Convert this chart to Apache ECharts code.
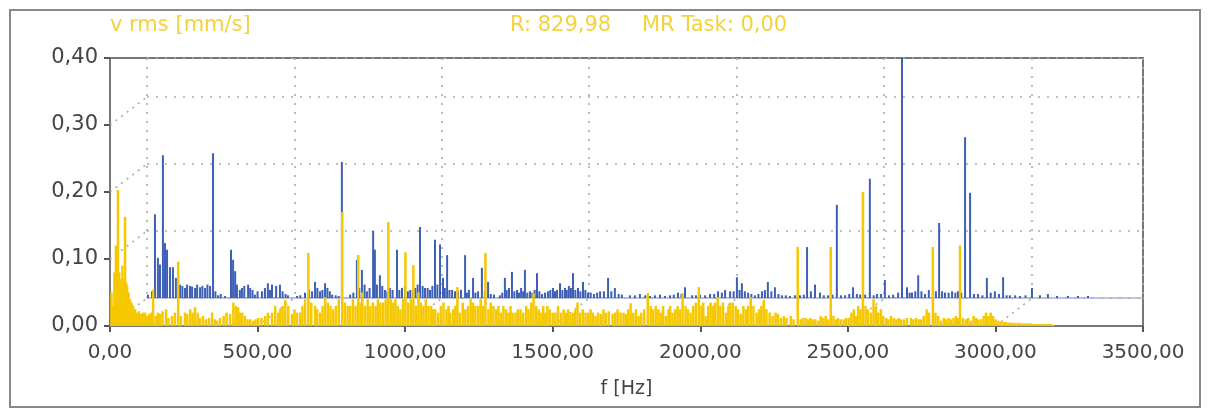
<!DOCTYPE html>
<html>
<head>
<meta charset="utf-8">
<script src="https://cdn.jsdelivr.net/npm/echarts@6/dist/echarts.min.js"></script>
<style>
html, body { margin: 0; padding: 0; background: #fff; }
#myChart { width: 1208px; height: 410px; }
</style>
</head>
<body>
<div id="myChart"></div>
<script>
// front spectrum (yellow) peaks, [f Hz, v rms]
const yellowData = [
  [10,0.03],[20,0.12],[27,0.203],[34,0.07],[42,0.09],[51,0.163],[58,0.06],[68,0.04],[78,0.03],[92,0.02],
  [105,0.018],[119,0.02],[146,0.054],[170,0.018],[190,0.025],[210,0.015],[231,0.096],[254,0.02],[288,0.028],
  [315,0.015],[346,0.02],[373,0.012],[407,0.018],[434,0.028],[448,0.02],[475,0.01],[502,0.012],[526,0.015],
  [549,0.02],[577,0.025],[594,0.039],[617,0.018],[644,0.02],[672,0.109],[695,0.03],[712,0.02],[729,0.043],
  [756,0.025],[787,0.17],[814,0.03],[841,0.106],[855,0.05],[882,0.03],[916,0.035],[943,0.155],[967,0.04],
  [984,0.025],[1001,0.11],[1028,0.091],[1045,0.05],[1079,0.03],[1102,0.025],[1130,0.035],[1153,0.02],
  [1177,0.058],[1204,0.025],[1238,0.03],[1272,0.109],[1299,0.03],[1333,0.03],[1364,0.02],[1391,0.025],
  [1435,0.049],[1459,0.02],[1482,0.03],[1509,0.02],[1537,0.025],[1560,0.018],[1584,0.035],[1611,0.02],
  [1645,0.015],[1672,0.025],[1703,0.018],[1730,0.02],[1764,0.034],[1791,0.015],[1822,0.049],[1849,0.03],
  [1883,0.015],[1906,0.02],[1940,0.049],[1967,0.02],[1995,0.058],[2018,0.015],[2059,0.043],[2087,0.02],
  [2110,0.035],[2137,0.018],[2171,0.043],[2191,0.02],[2215,0.039],[2245,0.015],[2273,0.012],[2307,0.015],
  [2330,0.118],[2357,0.012],[2381,0.01],[2408,0.015],[2442,0.118],[2476,0.01],[2503,0.012],[2527,0.015],
  [2551,0.2],[2578,0.02],[2612,0.025],[2646,0.015],[2680,0.01],[2714,0.012],[2748,0.01],[2788,0.118],
  [2815,0.008],[2849,0.01],[2880,0.12],[2917,0.008],[2951,0.01],[2992,0.015],[3019,0.006],[3053,0.005],
  [3087,0.004],[3121,0.004],[3155,0.003],[3188,0.003]
]
// front spectrum noise floor
const yellowFloor = [
  [5,0.05],[15,0.08],[24,0.09],[31,0.08],[38,0.06],[47,0.07],[55,0.065],[63,0.05],[73,0.035],[85,0.025],
  [98,0.022],[112,0.02],[126,0.015],[133,0.018],[140,0.02],[155,0.015],[162,0.02],[178,0.022],[198,0.012],
  [220,0.02],[240,0.015],[262,0.018],[272,0.025],[280,0.02],[297,0.02],[305,0.012],[325,0.01],[335,0.012],
  [355,0.01],[363,0.008],[385,0.015],[395,0.02],[418,0.035],[426,0.03],[440,0.02],[457,0.015],[466,0.01],
  [485,0.008],[493,0.01],[513,0.012],[535,0.02],[560,0.03],[570,0.02],[585,0.03],[604,0.03],[625,0.025],
  [633,0.02],[652,0.03],[661,0.04],[682,0.035],[702,0.025],[720,0.03],[738,0.035],[747,0.03],[765,0.03],
  [775,0.04],[796,0.035],[805,0.03],[823,0.04],[832,0.03],[849,0.035],[864,0.03],[873,0.04],[891,0.035],
  [900,0.03],[908,0.04],[925,0.035],[934,0.04],[952,0.04],[960,0.035],[975,0.03],[993,0.04],[1010,0.035],
  [1019,0.04],[1036,0.03],[1053,0.035],[1062,0.03],[1070,0.04],[1088,0.03],[1095,0.025],[1112,0.02],
  [1121,0.03],[1140,0.025],[1147,0.03],[1163,0.025],[1170,0.03],[1185,0.02],[1195,0.035],[1213,0.03],
  [1222,0.04],[1230,0.035],[1248,0.03],[1256,0.04],[1264,0.03],[1282,0.025],[1290,0.035],[1308,0.025],
  [1316,0.03],[1324,0.02],[1342,0.025],[1350,0.02],[1357,0.03],[1374,0.02],[1382,0.025],[1400,0.02],
  [1410,0.03],[1418,0.025],[1427,0.035],[1444,0.03],[1452,0.025],[1468,0.03],[1475,0.02],[1490,0.025],
  [1500,0.02],[1518,0.03],[1528,0.02],[1545,0.02],[1552,0.025],[1568,0.02],[1576,0.025],[1593,0.02],
  [1602,0.025],[1620,0.02],[1628,0.025],[1636,0.02],[1654,0.02],[1663,0.018],[1680,0.02],[1690,0.022],
  [1712,0.02],[1720,0.025],[1740,0.02],[1748,0.018],[1756,0.025],[1773,0.02],[1782,0.025],[1800,0.02],
  [1810,0.025],[1832,0.03],[1840,0.025],[1858,0.025],[1866,0.02],[1874,0.03],[1892,0.025],[1898,0.03],
  [1915,0.025],[1923,0.03],[1931,0.025],[1950,0.03],[1958,0.025],[1976,0.03],[1985,0.035],[2004,0.03],
  [2010,0.035],[2027,0.03],[2035,0.035],[2043,0.03],[2050,0.035],[2068,0.03],[2077,0.035],[2095,0.03],
  [2102,0.035],[2120,0.03],[2128,0.025],[2146,0.03],[2155,0.025],[2162,0.03],[2180,0.03],[2200,0.025],
  [2207,0.03],[2224,0.025],[2235,0.02],[2255,0.02],[2263,0.018],[2283,0.015],[2292,0.012],[2316,0.01],
  [2340,0.01],[2348,0.012],[2366,0.01],[2373,0.012],[2390,0.01],[2400,0.008],[2417,0.012],[2425,0.015],
  [2433,0.01],[2451,0.015],[2460,0.01],[2467,0.012],[2486,0.01],[2494,0.012],[2512,0.02],[2520,0.025],
  [2535,0.03],[2543,0.025],[2560,0.03],[2568,0.025],[2587,0.04],[2595,0.03],[2603,0.02],[2620,0.015],
  [2630,0.012],[2637,0.01],[2655,0.012],[2664,0.01],[2672,0.012],[2690,0.01],[2700,0.012],[2722,0.01],
  [2731,0.012],[2740,0.01],[2757,0.015],[2767,0.025],[2775,0.02],[2797,0.02],[2806,0.015],[2825,0.012],
  [2833,0.01],[2841,0.012],[2858,0.012],[2866,0.015],[2873,0.012],[2890,0.012],[2900,0.01],[2908,0.012],
  [2926,0.015],[2934,0.012],[2942,0.01],[2960,0.015],[2968,0.02],[2976,0.015],[2984,0.02],[3000,0.01],
  [3010,0.008],[3028,0.006],[3036,0.006],[3045,0.005],[3062,0.005],[3070,0.004],[3078,0.005],[3096,0.004],
  [3104,0.004],[3112,0.004],[3130,0.003],[3138,0.003],[3146,0.003],[3164,0.003],[3172,0.003],[3180,0.003],
  [3196,0.002]
]
// rear spectrum (blue) peaks, drawn on the shifted rear plane
const blueData = [
  [3,0.005],[17,0.01],[27,0.125],[37,0.06],[44,0.05],[54,0.213],[61,0.082],[68,0.072],[78,0.046],[88,0.046],
  [98,0.03],[112,0.02],[129,0.015],[146,0.018],[163,0.015],[180,0.016],[197,0.015],[214,0.018],[224,0.216],
  [241,0.004],[265,0.003],[285,0.072],[292,0.057],[299,0.04],[315,0.012],[343,0.02],[366,0.005],[390,0.01],
  [410,0.022],[424,0.02],[451,0.02],[478,0.004],[509,0.003],[536,0.008],[570,0.024],[587,0.01],[604,0.022],
  [628,0.005],[661,0.203],[689,0.005],[712,0.057],[729,0.042],[746,0.01],[767,0.10],[773,0.072],[790,0.034],
  [807,0.012],[824,0.015],[848,0.072],[865,0.015],[885,0.01],[902,0.012],[926,0.106],[943,0.015],[960,0.012],
  [977,0.087],[994,0.08],[1004,0.03],[1018,0.064],[1035,0.012],[1055,0.01],[1079,0.064],[1092,0.012],
  [1106,0.03],[1123,0.01],[1136,0.045],[1157,0.024],[1177,0.005],[1197,0.004],[1214,0.03],[1228,0.015],
  [1238,0.039],[1255,0.012],[1269,0.015],[1282,0.042],[1299,0.01],[1323,0.037],[1340,0.006],[1360,0.01],
  [1377,0.015],[1391,0.012],[1401,0.022],[1418,0.015],[1431,0.018],[1445,0.037],[1462,0.015],[1479,0.024],
  [1496,0.008],[1516,0.006],[1537,0.01],[1564,0.03],[1587,0.015],[1611,0.005],[1638,0.004],[1672,0.006],
  [1706,0.003],[1740,0.005],[1774,0.004],[1801,0.008],[1825,0.016],[1849,0.004],[1876,0.005],[1910,0.006],
  [1937,0.01],[1961,0.012],[1978,0.01],[2001,0.031],[2018,0.022],[2039,0.008],[2062,0.004],[2086,0.01],
  [2106,0.024],[2130,0.016],[2154,0.004],[2181,0.003],[2215,0.004],[2239,0.076],[2252,0.01],[2266,0.02],
  [2283,0.008],[2310,0.004],[2340,0.139],[2368,0.004],[2395,0.016],[2419,0.005],[2452,0.178],[2476,0.006],
  [2503,0.027],[2531,0.005],[2561,0.40],[2578,0.016],[2595,0.008],[2616,0.034],[2639,0.006],[2666,0.072],
  [2687,0.112],[2707,0.008],[2731,0.01],[2751,0.01],[2775,0.24],[2792,0.157],[2819,0.006],[2849,0.03],
  [2876,0.01],[2904,0.031],[2927,0.004],[2961,0.003],[3002,0.015],[3029,0.004],[3056,0.006],[3087,0.003],
  [3124,0.003],[3158,0.003],[3192,0.003]
]
// rear spectrum noise floor
const blueFloor = [
  [105,0.022],[120,0.018],[136,0.02],[153,0.017],[170,0.02],[188,0.018],[205,0.02],[232,0.01],[250,0.006],
  [305,0.02],[322,0.015],[330,0.018],[350,0.015],[358,0.012],[375,0.01],[400,0.015],[417,0.012],[438,0.018],
  [460,0.01],[470,0.006],[520,0.004],[550,0.012],[560,0.01],[578,0.015],[595,0.012],[612,0.015],[620,0.01],
  [640,0.004],[650,0.003],[700,0.008],[720,0.015],[738,0.02],[755,0.015],[780,0.02],[798,0.018],[815,0.01],
  [833,0.012],[856,0.012],[875,0.018],[893,0.012],[910,0.015],[918,0.02],[935,0.018],[952,0.015],[968,0.018],
  [985,0.02],[1010,0.015],[1026,0.012],[1045,0.01],[1065,0.012],[1085,0.008],[1114,0.008],[1146,0.01],
  [1166,0.006],[1205,0.008],[1220,0.012],[1246,0.01],[1262,0.008],[1276,0.01],[1290,0.008],[1307,0.008],
  [1315,0.012],[1331,0.01],[1350,0.008],[1368,0.012],[1384,0.01],[1409,0.012],[1424,0.012],[1438,0.015],
  [1453,0.012],[1470,0.01],[1487,0.012],[1505,0.008],[1527,0.008],[1550,0.01],[1575,0.01],[1600,0.006],
  [1655,0.004],[1690,0.004],[1723,0.004],[1757,0.003],[1787,0.005],[1813,0.006],[1862,0.004],[1893,0.004],
  [1924,0.006],[1950,0.008],[1990,0.01],[2010,0.012],[2028,0.01],[2050,0.006],[2074,0.006],[2096,0.012],
  [2118,0.01],[2142,0.006],[2167,0.004],[2198,0.004],[2228,0.005],[2296,0.004],[2325,0.005],[2354,0.004],
  [2382,0.006],[2408,0.006],[2436,0.005],[2465,0.004],[2490,0.006],[2517,0.004],[2548,0.008],[2587,0.008],
  [2606,0.01],[2627,0.01],[2652,0.012],[2676,0.01],[2697,0.01],[2719,0.008],[2742,0.008],[2762,0.008],
  [2805,0.006],[2834,0.004],[2862,0.008],[2890,0.006],[2916,0.004],[2945,0.004],[2980,0.004]
]
// depth guide lines from the front axes to the rear plane
const guideTicks = [[0,0.1],[0,0.2],[0,0.3],[0,0],[500,0],[1000,0],[1500,0],[2000,0],[2500,0],[3000,0]]

const depthX = 37, depthY = 28
const fmt = v => v.toFixed(2).replace('.', ',')
const dotted = { color: '#aaa', width: 1.6, type: [2, 7] }
const txt = '#454545'
const titleColor = '#f3d33c'

let myChart = echarts.init(document.getElementById('myChart'))
let option = {
  animation: false,
  textStyle: { fontFamily: 'DejaVu Sans' },
  graphic: [
    { type: 'rect', shape: { x: 10, y: 10, width: 1190, height: 397 }, style: { fill: 'none', stroke: '#888', lineWidth: 2 } },
    { type: 'text', left: 110, top: 15, style: { text: 'v rms [mm/s]', fill: titleColor, fontSize: 21, fontFamily: 'DejaVu Sans' } },
    { type: 'text', left: 510, top: 15, style: { text: 'R: 829,98', fill: titleColor, fontSize: 21, fontFamily: 'DejaVu Sans' } },
    { type: 'text', left: 642, top: 15, style: { text: 'MR Task: 0,00', fill: titleColor, fontSize: 21, fontFamily: 'DejaVu Sans' } }
  ],
  grid: [
    { left: 110, right: 65, top: 58, bottom: 84, show: true, borderColor: '#777', borderWidth: 2, backgroundColor: 'transparent' },
    { left: 110 + depthX, right: 65, top: 58, bottom: 84 + depthY }
  ],
  xAxis: [
    {
      gridIndex: 0, type: 'value', min: 0, max: 3500, interval: 500,
      name: 'f [Hz]', nameLocation: 'middle', nameGap: 54,
      nameTextStyle: { color: txt, fontSize: 19 },
      axisLine: { lineStyle: { color: '#777', width: 2 } },
      axisTick: { show: true, length: 6, lineStyle: { color: '#555', width: 2 } },
      axisLabel: { color: txt, fontSize: 20, margin: 17, formatter: fmt },
      splitLine: { show: false }
    },
    {
      gridIndex: 1, type: 'value', min: 0, max: (1143 - 147) / 147.4 * 500, interval: 500,
      axisLine: { show: true, lineStyle: { color: '#a9b2cc', width: 1.5 } },
      axisTick: { show: false }, axisLabel: { show: false },
      splitLine: { show: true, lineStyle: dotted }
    }
  ],
  yAxis: [
    {
      gridIndex: 0, type: 'value', min: 0, max: 0.4, interval: 0.1,
      axisLine: { show: true, lineStyle: { color: '#777', width: 2 } },
      axisTick: { show: true, length: 6, lineStyle: { color: '#555', width: 2 } },
      axisLabel: { color: txt, fontSize: 21, margin: 12, formatter: fmt },
      splitLine: { show: false }
    },
    {
      gridIndex: 1, type: 'value', min: 0, max: (298 - 58) / 670, interval: 0.1,
      axisLine: { show: false }, axisTick: { show: false }, axisLabel: { show: false },
      splitLine: { show: true, lineStyle: dotted }
    }
  ],
  series: [
    {
      type: 'custom', xAxisIndex: 0, yAxisIndex: 0, z: 1, silent: true,
      data: guideTicks,
      renderItem: (params, api) => {
        let p = api.coord([api.value(0), api.value(1)])
        return {
          type: 'line',
          shape: { x1: p[0], y1: p[1], x2: p[0] + depthX, y2: p[1] - depthY },
          style: { stroke: '#aaa', lineWidth: 1.6, lineDash: [2, 5] }
        }
      }
    },
    {
      name: 'rear', type: 'bar', xAxisIndex: 1, yAxisIndex: 1, z: 2,
      barWidth: 2, data: blueFloor.concat(blueData), clip: true,
      itemStyle: { color: '#3d5fb5' }
    },
    {
      name: 'front', type: 'bar', xAxisIndex: 0, yAxisIndex: 0, z: 3,
      barWidth: 2.5, data: yellowFloor.concat(yellowData), clip: true,
      itemStyle: { color: '#f5c800' }
    }
  ]
}
myChart.setOption(option)

window.addEventListener('resize', () => {
  myChart.resize()
})
</script>
</body>
</html>
